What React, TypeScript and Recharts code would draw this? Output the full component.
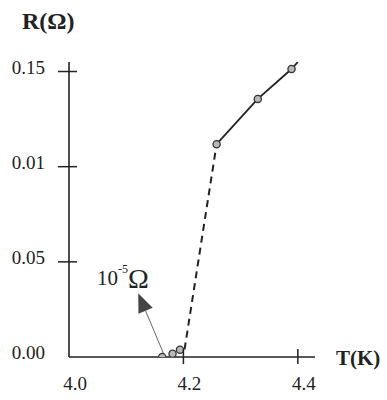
import {
  ComposedChart,
  Line,
  XAxis,
  YAxis,
  ReferenceLine,
  ReferenceDot,
} from "recharts";

/* ---------- data ---------- */
const xTicks = [4.0, 4.2, 4.4];
const xTickLabels = ["4.0", "4.2", "4.4"];
const yTicks = [0, 0.05, 0.1, 0.15];
const yTickLabels = ["0.00", "0.05", "0.01", "0.15"];

// below Tc, resistance ~ 0
const lowT = [4.163, 4.181, 4.194];
const lowR = [0.0, 0.0017, 0.0038];
// normal state
const highT = [4.258, 4.33, 4.389, 4.4];
const highR = [0.1118, 0.1356, 0.1513, 0.155];
// dashed jump
const jumpT = [4.202, 4.258];
const jumpR = [0.004, 0.1118];

const arrowFrom = { T: 4.1675, R: 0.0002 };
const arrowTo = { T: 4.121, R: 0.0335 };
const noteAt = { T: 4.049, R: 0.0378 };

const SERIF = '"Liberation Serif", "DejaVu Serif", serif';
const INK = "#222";

const toRows = (t: number[], r: number[]) => t.map((T, i) => ({ T, R: r[i] }));
const lowData = toRows(lowT, lowR);
const highData = toRows(highT, highR);
const jumpData = toRows(jumpT, jumpR);

function Marker(props: any) {
  const { cx, cy, index, skip } = props;
  if (skip && index >= skip) return <g key={`m${index}`} />;
  return (
    <circle
      key={`m${index}`}
      cx={cx}
      cy={cy}
      r={3.6}
      fill="#b8b8b8"
      stroke="#333"
      strokeWidth={1.3}
    />
  );
}

function XTick(props: any) {
  const { x, y, payload, index } = props;
  return (
    <g>
      {payload.value > 4.0 && (
        <line x1={x} y1={y - 8} x2={x} y2={y + 7} stroke={INK} strokeWidth={1.5} />
      )}
      <text
        x={x + 6}
        y={y + 33}
        textAnchor="middle"
        fontFamily={SERIF}
        fontSize={19}
        fill={INK}
      >
        {xTickLabels[index] ?? payload.value}
      </text>
    </g>
  );
}

function YTick(props: any) {
  const { x, y, payload, index } = props;
  return (
    <g>
      {payload.value > 0 && (
        <line x1={x - 11} y1={y} x2={x + 8} y2={y} stroke={INK} strokeWidth={1.5} />
      )}
      <text
        x={x - 24}
        y={y + 2}
        textAnchor="end"
        fontFamily={SERIF}
        fontSize={19}
        fill={INK}
      >
        {yTickLabels[index] ?? payload.value}
      </text>
    </g>
  );
}

function Arrow(props: any) {
  const { x1, y1, x2, y2 } = props;
  const dx = x2 - x1;
  const dy = y2 - y1;
  const len = Math.hypot(dx, dy) || 1;
  const ux = dx / len;
  const uy = dy / len;
  const head = 19;
  const half = 7.7;
  const bx = x2 - ux * head;
  const by = y2 - uy * head;
  return (
    <g>
      <line x1={x1} y1={y1} x2={bx} y2={by} stroke="#666" strokeWidth={1} />
      <polygon
        points={`${x2},${y2} ${bx - uy * half},${by + ux * half} ${bx + uy * half},${by - ux * half}`}
        fill="#444"
      />
    </g>
  );
}

function Note(props: any) {
  const { cx, cy } = props;
  return (
    <text x={cx} y={cy} fontFamily={SERIF} fill={INK}>
      <tspan fontSize={21}>10</tspan>
      <tspan fontSize={12} dy={-12}>-5</tspan>
      <tspan fontSize={28} dy={15}>Ω</tspan>
    </text>
  );
}

export default function App() {
  return (
    <div
      style={{
        position: "absolute",
        left: 8,
        top: 8,
        width: 379,
        height: 392,
        background: "#fff",
      }}
    >
      <ComposedChart
        width={379}
        height={392}
        margin={{ top: 54, right: 72, bottom: 0, left: 0 }}
      >
        <XAxis
          type="number"
          dataKey="T"
          domain={[4.0, 4.43]}
          ticks={xTicks}
          allowDataOverflow
          height={43}
          tickSize={0}
          tickMargin={0}
          tickLine={false}
          axisLine={{ stroke: INK, strokeWidth: 1.6 }}
          tick={(p: any) => <XTick {...p} />}
        />
        <YAxis
          type="number"
          dataKey="R"
          domain={[0, 0.155]}
          ticks={yTicks}
          allowDataOverflow
          width={61}
          tickSize={0}
          tickMargin={0}
          tickLine={false}
          axisLine={{ stroke: INK, strokeWidth: 1.6 }}
          tick={(p: any) => <YTick {...p} />}
        />
        <ReferenceLine
          segment={[
            { x: arrowFrom.T, y: arrowFrom.R },
            { x: arrowTo.T, y: arrowTo.R },
          ]}
          shape={(p: any) => <Arrow {...p} />}
        />
        <ReferenceDot
          x={noteAt.T}
          y={noteAt.R}
          r={0}
          shape={(p: any) => <Note {...p} />}
        />
        <Line
          data={jumpData}
          dataKey="R"
          stroke={INK}
          strokeWidth={2}
          strokeDasharray="7 5"
          dot={false}
          isAnimationActive={false}
        />
        <Line
          data={highData}
          dataKey="R"
          stroke={INK}
          strokeWidth={1.8}
          dot={(p: any) => <Marker {...p} skip={3} />}
          isAnimationActive={false}
        />
        <Line
          data={lowData}
          dataKey="R"
          stroke="none"
          dot={(p: any) => <Marker {...p} />}
          isAnimationActive={false}
        />
        <text x={14} y={21} fontFamily={SERIF} fontSize={24} fontWeight="bold" fill={INK}>
          R(Ω)
        </text>
        <text x={328} y={357} fontFamily={SERIF} fontSize={21} fontWeight="bold" fill={INK}>
          T(K)
        </text>
      </ComposedChart>
    </div>
  );
}
